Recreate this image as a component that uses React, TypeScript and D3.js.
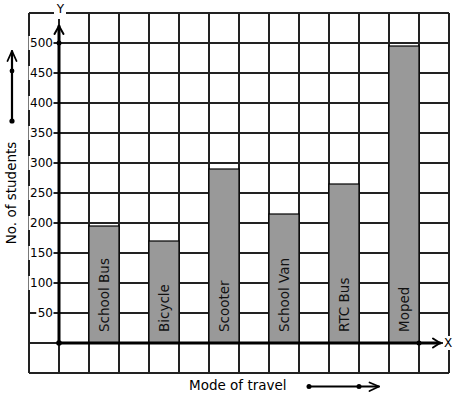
import React from "react";
import * as d3 from "d3";

const categories = ["School Bus", "Bicycle", "Scooter", "School Van", "RTC Bus", "Moped"];
const students = [195, 170, 290, 215, 265, 495];
const yTickValues = [50, 100, 150, 200, 250, 300, 350, 400, 450, 500];
const yTickLabels = ["50", "100", "150", "200", "250", "300", "350", "400", "450", "500"];
const xTitle = "Mode of travel";
const yTitle = "No. of students";

const W = 457;
const H = 399;
const FONT = "DejaVu Sans, Verdana, sans-serif";

export default function App() {
  // value scale: grid covers -50..550
  const y = d3.scaleLinear().domain([-50, 550]).range([373, 13]);
  // grid column scale
  const gx = d3.scaleLinear().domain([0, 14]).range([29, 449]);
  const x = d3
    .scaleBand<string>()
    .domain(categories)
    .range([gx(1), gx(13)])
    .paddingInner(0.5)
    .paddingOuter(0.25)
    .align(1);

  const colLines = d3.range(0, 15).map((i) => gx(i));
  const rowValues = d3.range(-50, 551, 50);
  const gridColor = "#222";
  const x0 = gx(1);
  const y0 = y(0);
  const charW = 12 * 0.636;

  return (
    <svg
      width={W}
      height={H}
      style={{ position: "absolute", left: 0, top: 0, background: "#fff" }}
      fontFamily={FONT}
    >
      <rect x={0} y={0} width={W} height={H} fill="#fff" />
      {/* grid */}
      <g stroke={gridColor} strokeWidth={1.2} shapeRendering="crispEdges">
        {colLines.map((cx, i) => (
          <line key={"c" + i} x1={cx} x2={cx} y1={y(550)} y2={y(-50)} />
        ))}
        {rowValues.map((v) => (
          <line key={"r" + v} x1={gx(0)} x2={gx(14)} y1={y(v)} y2={y(v)} />
        ))}
      </g>
      {/* bars */}
      {categories.map((c, i) => (
        <rect
          key={c}
          x={x(c)}
          y={y(students[i])}
          width={x.bandwidth()}
          height={y0 - y(students[i])}
          fill="#999999"
          stroke="#000"
          strokeWidth={1.2}
        />
      ))}
      {categories.map((c) => (
        <text
          key={"t" + c}
          transform={`translate(${x(c)! + x.bandwidth() / 2},${y0 - 11}) rotate(-90)`}
          fontSize={13.5}
          dominantBaseline="central"
          textAnchor="start"
          fill="#111"
        >
          {c}
        </text>
      ))}
      {/* y tick labels */}
      {yTickValues.map((v, i) => {
        const w = yTickLabels[i].length * charW + 1;
        const right = x0 - 6;
        return (
          <g key={"yt" + v}>
            <rect x={right - w - 0.5} y={y(v) - 7} width={w + 1} height={14} fill="#fff" />
            <text
              x={right}
              y={y(v)}
              fontSize={12}
              textAnchor="end"
              dominantBaseline="central"
              fill="#000"
            >
              {yTickLabels[i]}
            </text>
          </g>
        );
      })}
      {/* Y label */}
      <rect x={x0 - 5} y={y(550) - 7} width={12} height={13} fill="#fff" />
      <text x={x0 + 1.5} y={y(550) - 4} fontSize={12} textAnchor="middle" dominantBaseline="central">
        Y
      </text>
      {/* X label */}
      <rect x={gx(14) - 6} y={y0 - 7} width={12} height={14} fill="#fff" />
      <text x={gx(14) - 1} y={y0} fontSize={12} textAnchor="middle" dominantBaseline="central">
        X
      </text>
      {/* axes */}
      <g stroke="#000" fill="none" strokeLinecap="round" strokeLinejoin="round">
        <line x1={x0} y1={y0} x2={x0} y2={y(530) + 1} strokeWidth={3} />
        <polyline
          points={`${x0 - 4.5},${y(530) + 9} ${x0},${y(530) + 1} ${x0 + 4.5},${y(530) + 9}`}
          strokeWidth={2}
        />
        <line x1={x0} y1={y0} x2={gx(14) - 9} y2={y0} strokeWidth={3} />
        <polyline
          points={`${gx(14) - 16},${y0 - 4.5} ${gx(14) - 9},${y0} ${gx(14) - 16},${y0 + 4.5}`}
          strokeWidth={2}
        />
      </g>
      <circle cx={x0} cy={y0} r={2.8} fill="#000" />
      <circle cx={x0} cy={y(500)} r={2.5} fill="#000" />
      <circle cx={gx(13)} cy={y0} r={2.5} fill="#000" />
      {/* y title */}
      <text
        transform={`translate(11,${(y(-50) + y(550)) / 2}) rotate(-90)`}
        fontSize={13.5}
        textAnchor="middle"
        dominantBaseline="central"
      >
        {yTitle}
      </text>
      <g stroke="#000" fill="none" strokeLinecap="round" strokeLinejoin="round">
        <line x1={12} y1={121} x2={12} y2={51} strokeWidth={2.2} />
        <polyline points="7.5,61 12,51 16.5,61" strokeWidth={1.8} />
      </g>
      <circle cx={12} cy={121} r={2.6} fill="#000" />
      <circle cx={12} cy={71} r={2.4} fill="#000" />
      {/* x title */}
      <text x={189} y={385} fontSize={13.5} dominantBaseline="central">
        {xTitle}
      </text>
      <g stroke="#000" fill="none" strokeLinecap="round" strokeLinejoin="round">
        <line x1={309} y1={386.5} x2={379} y2={386.5} strokeWidth={2} />
        <polyline points="369.5,382.5 379,386.5 369.5,391" strokeWidth={1.8} />
      </g>
      <circle cx={309} cy={386.5} r={2.5} fill="#000" />
      <circle cx={359} cy={386.5} r={2.5} fill="#000" />
    </svg>
  );
}
